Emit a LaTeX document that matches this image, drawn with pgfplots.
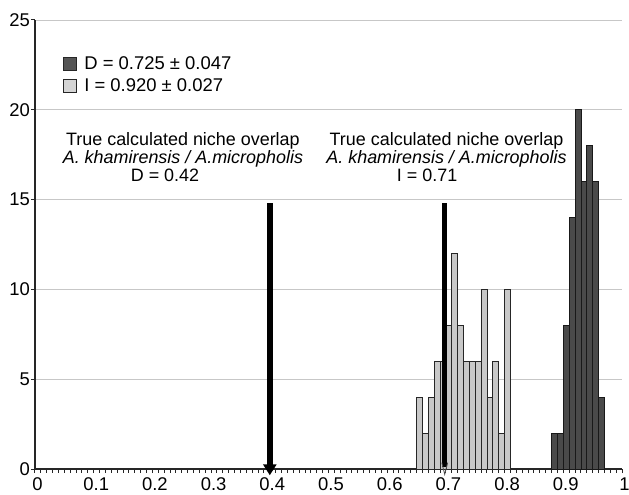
\documentclass[border=0pt]{standalone}
\usepackage{pgfplots}
\pgfplotsset{compat=1.18}
\usepackage{fontspec}
\setmainfont{Liberation Sans}
\usetikzlibrary{arrows.meta}
\definecolor{darkbar}{HTML}{4A4A4A}
\definecolor{lightbar}{HTML}{C8C8C8}
\definecolor{legdark}{HTML}{555555}
\definecolor{leglight}{HTML}{D4D4D4}
\begin{document}
\begin{tikzpicture}
\begin{axis}[
  name=ax,
  scale only axis, width=587bp, height=449bp,
  xmin=0, xmax=1, ymin=0, ymax=25,
  axis lines=left,
  axis line style={-, line width=1.8bp, color=black!85},
  xtick={0,0.1,0.2,0.3,0.4,0.5,0.6,0.7,0.8,0.9,1},
  minor x tick num=9,
  ytick={0,5,10,15,20,25},
  tick align=outside, major tick length=4bp, minor tick length=3.5bp,
  tick style={line width=1bp, color=black!85},
  ymajorgrids, grid style={line width=0.8bp, color=black!22},
  ticklabel style={font=\fontsize{18.5}{20}\selectfont},
  /pgf/number format/assume math mode=true,
  /pgf/number format/fixed,
  xticklabel style={inner sep=0pt, anchor=north, xshift=2.5bp, yshift=-4.5bp},
  yticklabel style={inner sep=0pt, anchor=east, xshift=-1bp},
  clip=false,
  legend style={at={(axis cs:0.047,23.1)}, anchor=north west, draw=none, fill=none,
    inner sep=0pt, row sep=4bp, font=\fontsize{18.5}{20}\selectfont},
  legend cell align=left,
]
\addlegendimage{legend image code/.code={\draw[fill=legdark,draw=black!85,line width=0.8bp] (0bp,-6.5bp) rectangle (13bp,6.5bp); \path (19bp,0bp);}}
\addlegendentry{D = 0.725 ± 0.047}
\addlegendimage{legend image code/.code={\draw[fill=leglight,draw=black!85,line width=0.8bp] (0bp,-6.5bp) rectangle (13bp,6.5bp); \path (19bp,0bp);}}
\addlegendentry{I = 0.920 ± 0.027}

% light (I) histogram
\addplot[ybar, bar width=0.01, bar shift=0pt, fill=lightbar, draw=black!85, line width=0.8bp, forget plot]
coordinates {(0.655,4) (0.665,2) (0.675,4) (0.685,6) (0.695,6) (0.705,8) (0.715,12) (0.725,8)
 (0.735,6) (0.745,6) (0.755,6) (0.765,10) (0.775,4) (0.785,6) (0.795,2) (0.805,10)};
% dark (D) histogram
\addplot[ybar, bar width=0.01, bar shift=0pt, fill=darkbar, draw=black!90, line width=0.8bp, forget plot]
coordinates {(0.885,2) (0.895,2) (0.905,8) (0.915,14) (0.925,20) (0.935,16) (0.945,18) (0.955,16) (0.965,4)};

% true overlap markers
\addplot[line width=5.5bp, black, -{Triangle[length=11bp,width=13bp]}, forget plot]
coordinates {(0.4,14.8) (0.4,-0.35)};
\addplot[line width=5.5bp, black, forget plot]
coordinates {(0.698,14.8) (0.698,0.1)};
\addplot[line width=0.8bp, black!70, forget plot]
coordinates {(0.693,0.35) (0.698,-0.3) (0.703,0.35)};

\node[anchor=base, font=\fontsize{18}{20}\selectfont] at (axis cs:0.252,18) {True calculated niche overlap};
\node[anchor=base, font=\fontsize{18}{20}\selectfont\itshape] at (axis cs:0.252,17) {A. khamirensis / A.micropholis};
\node[anchor=base, font=\fontsize{18}{20}\selectfont] at (axis cs:0.2215,16) {D = 0.42};
\node[anchor=base, font=\fontsize{18}{20}\selectfont] at (axis cs:0.701,18) {True calculated niche overlap};
\node[anchor=base, font=\fontsize{18}{20}\selectfont\itshape] at (axis cs:0.701,17) {A. khamirensis / A.micropholis};
\node[anchor=base, font=\fontsize{18}{20}\selectfont] at (axis cs:0.668,16) {I = 0.71};
\end{axis}
\pgfresetboundingbox
\path ([xshift=-35bp,yshift=-26bp]ax.south west) rectangle ([xshift=7bp,yshift=20bp]ax.north east);
\end{tikzpicture}
\end{document}
